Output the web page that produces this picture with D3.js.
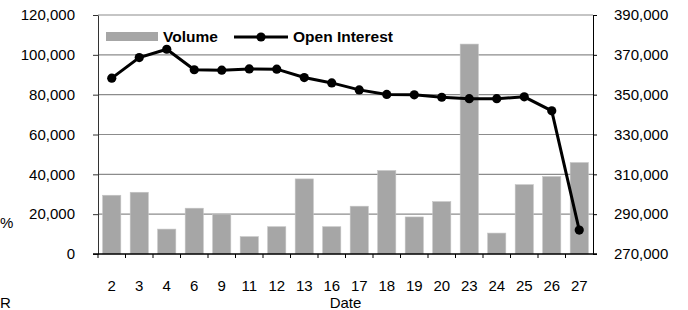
<!DOCTYPE html>
<html>
<head>
<meta charset="utf-8">
<script src="https://cdn.jsdelivr.net/npm/d3@7"></script>
<style>
body { margin: 0; background: #fff; }
svg { display: block; font-family: "Liberation Sans", Arial, sans-serif; }
</style>
</head>
<body>
<div id="chart"></div>
<script>
// data
var dates = ["2","3","4","6","9","11","12","13","16","17","18","19","20","23","24","25","26","27"];
var volume = [29500, 31000, 12500, 23000, 20000, 8700, 13700, 37700, 13700, 24000, 41900, 18600, 26300, 105400, 10500, 34800, 38900, 45900];
var openInterest = [358300, 368600, 372800, 362500, 362300, 362900, 362800, 358600, 355900, 352400, 350100, 349900, 348700, 348000, 348000, 348900, 341900, 282000];
var leftTicks = [0, 20000, 40000, 60000, 80000, 100000, 120000];
var rightTicks = [270000, 290000, 310000, 330000, 350000, 370000, 390000];

var W = 688, H = 310;
var margin = {top: 15, right: 95, bottom: 56, left: 98};
var width = W - margin.left - margin.right,
    height = H - margin.top - margin.bottom;
var FONT = "Liberation Sans, Arial, sans-serif";

var svg = d3.select("#chart").append("svg")
    .attr("width", W)
    .attr("height", H);

var g = svg.append("g")
    .attr("transform", "translate(" + margin.left + "," + margin.top + ")");

var x = d3.scaleBand().domain(dates).range([0, width]).paddingInner(0.34).paddingOuter(0.17);
var xb = d3.scaleBand().domain(dates).range([0, width]);
var yL = d3.scaleLinear().domain([0, 120000]).range([height, 0]);
var yR = d3.scaleLinear().domain([270000, 390000]).range([height, 0]);
var fmt = d3.format(",");

// gridlines
g.selectAll(".grid").data(leftTicks.slice(1)).enter().append("line")
    .attr("x1", 0).attr("x2", width)
    .attr("y1", function(d) { return yL(d); })
    .attr("y2", function(d) { return yL(d); })
    .attr("stroke", "#8c8c8c")
    .attr("stroke-width", 1.2);

// bars
g.selectAll(".bar").data(volume).enter().append("rect")
    .attr("x", function(d, i) { return x(dates[i]); })
    .attr("y", function(d) { return yL(d); })
    .attr("width", x.bandwidth())
    .attr("height", function(d) { return height - yL(d); })
    .attr("fill", "#a6a6a6")
    .attr("stroke", "#c4c4c4")
    .attr("stroke-width", 0.6);

// left axis
var axL = g.append("g")
    .call(d3.axisLeft(yL).tickValues(leftTicks).tickFormat(fmt).tickSize(5).tickSizeOuter(0));
axL.select(".domain").attr("stroke", "#333");
axL.selectAll(".tick line").attr("stroke", "#333");
axL.selectAll("text").attr("x", -23).attr("font-size", 15).attr("fill", "#000")
    .attr("font-family", FONT);

// right axis
var axR = g.append("g")
    .attr("transform", "translate(" + width + ",0)")
    .call(d3.axisRight(yR).tickValues(rightTicks).tickFormat(fmt).tickSize(4).tickSizeOuter(0));
axR.select(".domain").attr("stroke", "#000");
axR.selectAll("text").attr("x", 21).attr("font-size", 15).attr("fill", "#000")
    .attr("font-family", FONT);

// bottom axis: ticks between categories
var axB = g.append("g").attr("transform", "translate(0," + height + ")");
axB.append("line").attr("x1", -5).attr("x2", width + 4).attr("y1", 0).attr("y2", 0)
    .attr("stroke", "#000").attr("stroke-width", 1.3);
axB.selectAll(".tk").data(dates).enter().append("line")
    .attr("x1", function(d) { return xb(d); })
    .attr("x2", function(d) { return xb(d); })
    .attr("y1", 0).attr("y2", 4)
    .attr("stroke", "#000");
axB.selectAll(".lbl").data(dates).enter().append("text")
    .attr("x", function(d) { return xb(d) + xb.bandwidth() / 2; })
    .attr("y", 37)
    .attr("text-anchor", "middle")
    .attr("font-size", 15)
    .text(function(d) { return d; });

g.append("text")
    .attr("x", width / 2)
    .attr("y", height + 54)
    .attr("text-anchor", "middle")
    .attr("font-size", 15)
    .text("Date");

// open interest line
var line = d3.line()
    .x(function(d, i) { return xb(dates[i]) + xb.bandwidth() / 2; })
    .y(function(d) { return yR(d); });

g.append("path")
    .datum(openInterest)
    .attr("d", line)
    .attr("fill", "none")
    .attr("stroke", "#000")
    .attr("stroke-width", 3);

g.selectAll(".dot").data(openInterest).enter().append("circle")
    .attr("cx", function(d, i) { return xb(dates[i]) + xb.bandwidth() / 2; })
    .attr("cy", function(d) { return yR(d); })
    .attr("r", 4.6)
    .attr("fill", "#000");

// legend
var lg = svg.append("g");
lg.append("rect").attr("x", 106).attr("y", 32).attr("width", 52).attr("height", 9).attr("fill", "#a6a6a6");
lg.append("text").attr("x", 163).attr("y", 42).attr("font-size", 15.5).attr("font-weight", "bold").text("Volume");
lg.append("line").attr("x1", 234).attr("x2", 288).attr("y1", 37).attr("y2", 37)
    .attr("stroke", "#000").attr("stroke-width", 3);
lg.append("circle").attr("cx", 261).attr("cy", 37).attr("r", 4.6).attr("fill", "#000");
lg.append("text").attr("x", 293).attr("y", 42).attr("font-size", 15.5).attr("font-weight", "bold").text("Open Interest");

// fragments at the left edge
svg.append("text").attr("x", 0).attr("y", 228).attr("font-size", 15).text("%");
svg.append("text").attr("x", 0).attr("y", 308).attr("font-size", 15).text("R");
</script>
</body>
</html>
